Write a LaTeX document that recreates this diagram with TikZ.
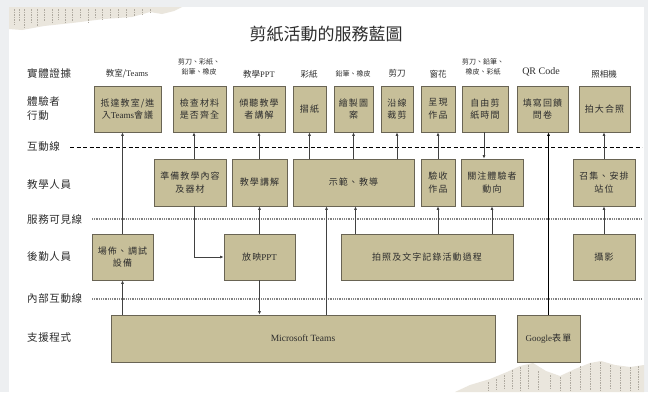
\documentclass[tikz,border=0pt]{standalone}
\usepackage{fontspec}
\setmainfont{Noto Sans CJK TC}
\newfontfamily\cjkb{Noto Sans CJK TC}[LetterSpace=12]
\newfontfamily\cjkr{Noto Sans CJK TC}[LetterSpace=6]
\newfontfamily\latf{Liberation Serif}
\usetikzlibrary{arrows.meta,calc}
\definecolor{boxfill}{RGB}{199,191,153}
\definecolor{boxline}{RGB}{105,100,84}
\definecolor{connc}{RGB}{65,65,65}
\definecolor{txt}{RGB}{45,45,45}
\definecolor{pagebg}{RGB}{237,239,241}
\definecolor{dotc}{RGB}{130,130,130}
\definecolor{paper}{RGB}{234,230,221}
\definecolor{inkc}{RGB}{175,170,160}
\newcommand\Lt[1]{{\latf #1}}
\begin{document}
\begin{tikzpicture}[x=1pt,y=-1pt,
  bx/.style={draw=boxline,fill=boxfill,line width=0.7pt,inner sep=0pt,align=center,text=txt,font=\cjkb\fontsize{9}{12.5}\selectfont},
  rowlab/.style={anchor=west,text=txt,font=\cjkr\fontsize{10.5}{13.5}\selectfont,align=left,inner sep=0pt},
  evid/.style={text=txt,font=\fontsize{8.5}{11}\selectfont,inner sep=0pt,align=center},
  evids/.style={text=txt,font=\fontsize{7}{10.5}\selectfont,inner sep=0pt,align=center},
  cn/.style={draw=connc,line width=0.9pt,-{Latex[length=3.5pt,width=3pt]}},
  cnk/.style={draw=black,line width=0.9pt,-{Latex[length=3.5pt,width=3pt]}},
  sepdash/.style={draw=black,line width=0.9pt,dash pattern=on 4pt off 2.5pt},
  sepdot/.style={draw=dotc,line width=1.3pt,dash pattern=on 1pt off 0.8pt},
]
\useasboundingbox (0,0) rectangle (648,392);
\fill[pagebg] (0,0) rectangle (648,392);
\fill[white] (9,7) rectangle (644,392);

% decorations (torn paper)
\fill[paper] (9,7) -- (182,7) -- (174,11) -- (162,14) -- (150,12) -- (132,17) -- (104,19) -- (72,23) -- (44,26) -- (22,30) -- (9,29) -- cycle;
\foreach \x/\h in {14/16,19/12,24/18,31/14,37/17,44/12,52/15,58/11,65/14,72/12,80/10,88/13,95/9,102/11,110/9,118/8,126/9,134/7,142/6,150/5}
  \draw[inkc,line width=1pt,dash pattern=on 1.5pt off 1pt] (\x,9) -- (\x,9+\h);
\fill[paper] (455,392) -- (470,385) -- (490,379) -- (507,372) -- (520,366) -- (533,363) -- (546,371) -- (560,376) -- (575,369) -- (590,363) -- (601,361) -- (615,365) -- (630,367) -- (644,365) -- (644,392) -- cycle;
\foreach \x/\h in {488/10,496/13,504/17,512/22,520/25,528/27,538/21,550/17,560/15,570/20,580/26,590/29,600/30,610/27,620/25,630/25,638/26}
  \draw[inkc,line width=1pt,dash pattern=on 1.5pt off 1pt] (\x,392-\h) -- (\x,390);

% title
\node[text=txt,font=\fontsize{17}{20}\selectfont,inner sep=0pt] (title) at (326,34) {剪紙活動的服務藍圖};

% row labels
\node[rowlab] (r1) at (27,73) {實體證據};
\node[rowlab] (r2) at (27,108.5) {體驗者\\行動};
\node[rowlab] (r3) at (27,147) {互動線};
\node[rowlab] (r4) at (27,185) {教學人員};
\node[rowlab] (r5) at (27,219) {服務可見線};
\node[rowlab] (r6) at (27,257) {後勤人員};
\node[rowlab] (r7) at (27,299) {內部互動線};
\node[rowlab] (r8) at (27,338) {支援程式};

% separator lines
\coordinate (L1a) at (70,147); \coordinate (L1b) at (642,147);
\coordinate (L2a) at (92,219); \coordinate (L2b) at (642,219);
\coordinate (L3a) at (92,299); \coordinate (L3b) at (642,299);
\draw[sepdash] (L1a) -- (L1b);
\draw[sepdot] (L2a) -- (L2b);
\draw[sepdot] (L3a) -- (L3b);

% physical evidence
\node[evid] (e1) at (127,74) {教室/\Lt{Teams}};
\node[evids] (e2) at (199,67) {剪刀、彩紙、\\鉛筆、橡皮};
\node[evid] (e3) at (259,74) {教學\Lt{PPT}};
\node[evid] (e4) at (309,74) {彩紙};
\node[evids] (e5) at (353,74) {鉛筆、橡皮};
\node[evid] (e6) at (397,73) {剪刀};
\node[evid] (e7) at (438,74) {窗花};
\node[evids] (e8) at (483,67) {剪刀、鉛筆、\\橡皮、彩紙};
\node[evid,font=\fontsize{10}{11}\selectfont] (e9) at (541,72) {\Lt{QR Code}};
\node[evid] (e10) at (604,74) {照相機};

% customer actions
\node[bx,minimum width=67pt,minimum height=46pt] (a1) at (127.5,109) {抵達教室/進\\入\Lt{Teams}會議};
\node[bx,minimum width=53pt,minimum height=46pt] (a2) at (199.5,109) {檢查材料\\是否齊全};
\node[bx,minimum width=52pt,minimum height=46pt] (a3) at (259,109) {傾聽教學\\者講解};
\node[bx,minimum width=33pt,minimum height=46pt] (a4) at (309.5,109) {摺紙};
\node[bx,minimum width=39pt,minimum height=46pt] (a5) at (353.5,109) {繪製圖\\案};
\node[bx,minimum width=32pt,minimum height=46pt] (a6) at (397,109) {沿線\\裁剪};
\node[bx,minimum width=34pt,minimum height=46pt] (a7) at (438,109) {呈現\\作品};
\node[bx,minimum width=46pt,minimum height=46pt] (a8) at (485,109) {自由剪\\紙時間};
\node[bx,minimum width=51pt,minimum height=46pt] (a9) at (542.5,109) {填寫回饋\\問卷};
\node[bx,minimum width=51pt,minimum height=46pt] (a10) at (604.5,109) {拍大合照};

% onstage (teaching staff)
\node[bx,minimum width=72pt,minimum height=47pt] (b1) at (190,182.5) {準備教學內容\\及器材};
\node[bx,minimum width=55pt,minimum height=47pt] (b2) at (259.5,182.5) {教學講解};
\node[bx,minimum width=121pt,minimum height=47pt] (b3) at (353.5,182.5) {示範、教導};
\node[bx,minimum width=34pt,minimum height=47pt] (b4) at (438,182.5) {驗收\\作品};
\node[bx,minimum width=62pt,minimum height=47pt] (b5) at (492,182.5) {關注體驗者\\動向};
\node[bx,minimum width=62pt,minimum height=47pt] (b6) at (604,182.5) {召集、安排\\站位};

% backstage
\node[bx,minimum width=61pt,minimum height=46pt] (c1) at (122.5,257) {場佈、調試\\設備};
\node[bx,minimum width=71pt,minimum height=46pt] (c2) at (259.5,257) {放映\Lt{PPT}};
\node[bx,minimum width=172pt,minimum height=46pt] (c3) at (427,257) {拍照及文字記錄活動過程};
\node[bx,minimum width=62pt,minimum height=46pt] (c4) at (604,257) {攝影};

% support
\node[bx,minimum width=384pt,minimum height=47pt,font=\latf\fontsize{9.5}{12}\selectfont] (d1) at (303,338.5) {Microsoft Teams};
\node[bx,minimum width=63pt,minimum height=47pt] (d2) at (548.5,338.5) {\Lt{Google}表單};

% helper x positions
\coordinate (X194) at (194,0);
\coordinate (X326) at (326.5,0);
\coordinate (X355) at (355.5,0);
\coordinate (X484) at (484,0);

% connectors
\draw[cn] (c1.north) -- (c1.north |- a1.south);
\draw[cn] (c1.south |- d1.north) -- (c1.south);
\draw[cn] (b1.north -| X194) -- (a2.south -| X194);
\draw[cn] (b1.south -| X194) |- (c2.west);
\draw[cn] (b2.north -| a3.south) -- (a3.south);
\draw[cn] (c2.north) -- (c2.north |- b2.south);
\draw[cn] (c2.south) -- (c2.south |- d1.north);
\draw[cn] (a4.south |- b3.north) -- (a4.south);
\draw[cn] (a5.south |- b3.north) -- (a5.south);
\draw[cn] (a6.south |- b3.north) -- (a6.south);
\draw[cn] (d1.north -| X326) -- (b3.south -| X326);
\draw[cn] (c3.north -| X355) -- (b3.south -| X355);
\draw[cn] (b4.north) -- (a7.south);
\draw[cn] (c3.north -| b4.south) -- (b4.south);
\draw[cn] (a8.south -| X484) -- (b5.north -| X484);
\draw[cn] (c3.north -| b5.south) -- (b5.south);
\draw[cnk] (d2.north) -- (d2.north |- a9.south);
\draw[cn] (b6.north) -- (b6.north |- a10.south);
\draw[cn] (c4.north) -- (b6.south);
\end{tikzpicture}
\end{document}
